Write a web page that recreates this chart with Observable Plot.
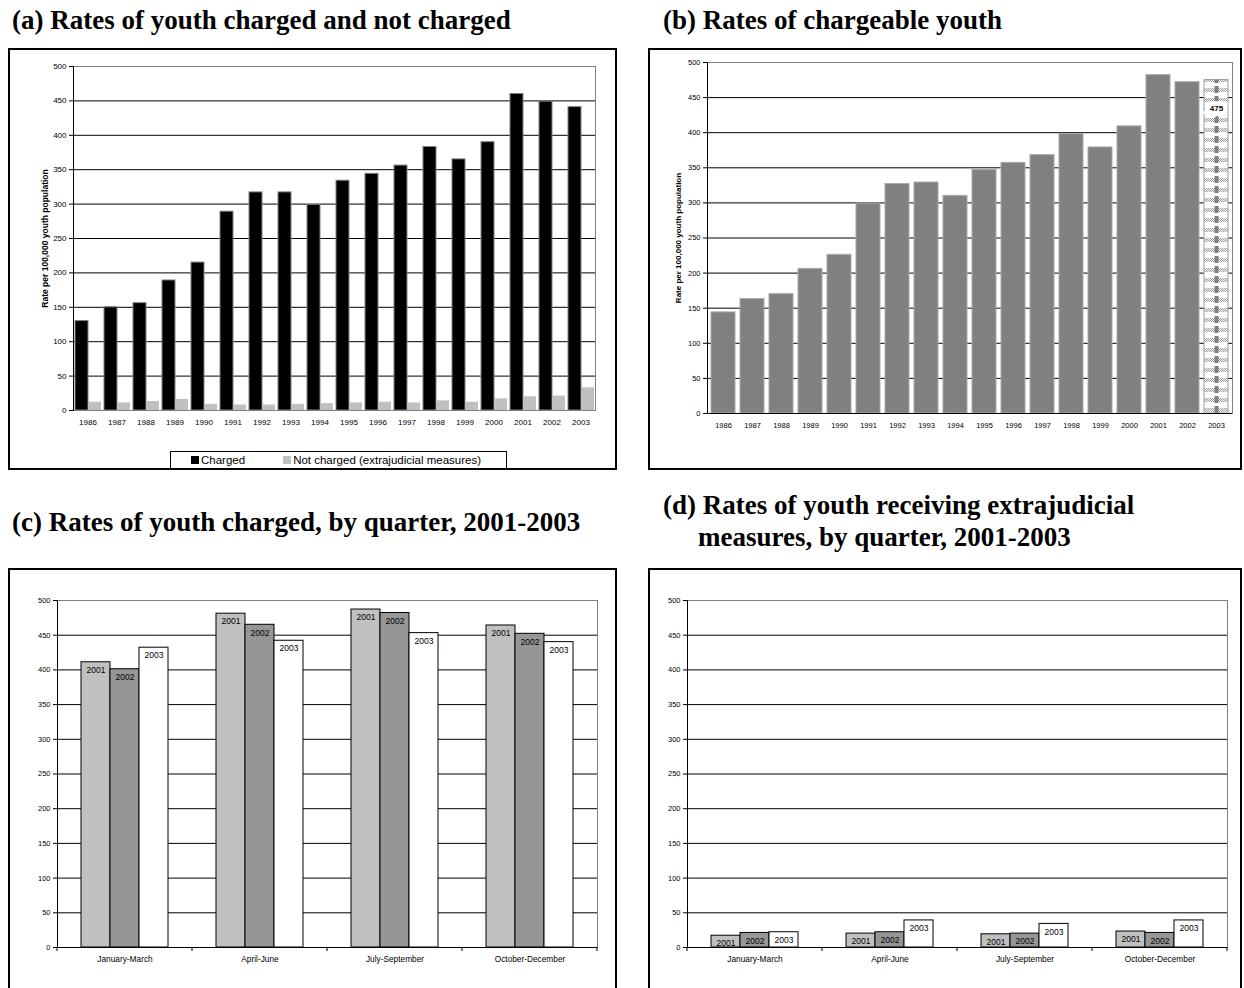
<!DOCTYPE html>
<html>
<head>
<meta charset="utf-8">
<script src="https://cdn.jsdelivr.net/npm/d3@7"></script>
<script src="https://cdn.jsdelivr.net/npm/@observablehq/plot@0.6"></script>
<style>
  html, body { margin: 0; padding: 0; background: #fff; }
  #page { position: relative; width: 1244px; height: 988px; overflow: hidden; background: #fff; }
  .title { position: absolute; font-family: "Liberation Serif", "Times New Roman", serif; font-weight: bold; font-size: 27px; line-height: 32px; color: #000; white-space: nowrap; }
  .box { position: absolute; border: 2px solid #000; box-sizing: border-box; }
  .panel { position: absolute; }
  .panel svg { display: block; }
  .legend { position: absolute; border: 1px solid #000; box-sizing: border-box; background: #fff; font-family: "Liberation Sans", Arial, sans-serif; font-size: 11.5px; display: flex; align-items: center; }
  .legend span.sw { display: inline-block; width: 8px; height: 8px; margin-right: 2px; vertical-align: middle; position: relative; top: -1px; }
</style>
</head>
<body>
<div id="page">
  <div class="title" style="left:12px; top:4px;">(a) Rates of youth charged and not charged</div>
  <div class="title" style="left:663px; top:4px;">(b) Rates of chargeable youth</div>
  <div class="title" style="left:12px; top:506px;">(c) Rates of youth charged, by quarter, 2001-2003</div>
  <div class="title" style="left:663px; top:489px;">(d) Rates of youth receiving extrajudicial<br><span style="padding-left:35px">measures, by quarter, 2001-2003</span></div>

  <div class="box" style="left:8px; top:48px; width:609px; height:422px;"></div>
  <div class="box" style="left:648px; top:48px; width:594px; height:422px;"></div>
  <div class="box" style="left:8px; top:568px; width:609px; height:422px;"></div>
  <div class="box" style="left:648px; top:568px; width:594px; height:422px;"></div>

  <div class="panel" id="pa" style="left:8px; top:48px;"></div>
  <div class="panel" id="pb" style="left:648px; top:48px;"></div>
  <div class="panel" id="pc" style="left:8px; top:568px;"></div>
  <div class="panel" id="pd" style="left:648px; top:568px;"></div>

  <div class="legend" style="left:170px; top:451px; width:337px; height:18px;">
    <span style="margin-left:20px;"><span class="sw" style="background:#000"></span>Charged</span>
    <span style="margin-left:38px;"><span class="sw" style="background:#c0c0c0"></span>Not charged (extrajudicial measures)</span>
  </div>
</div>
<script>
// ---------- data ----------
const years = ["1986","1987","1988","1989","1990","1991","1992","1993","1994","1995","1996","1997","1998","1999","2000","2001","2002","2003"];
const charged = [130,150,156,189,215,289,317,317,299,334,344,356,383,365,390,460,449,441];
const notCharged = [12,11,13,16,9,8,8,9,10,11,12,11,14,12,17,20,21,33];
const chargeable = [144,163,170,206,226,299,327,329,310,347,357,368,398,379,409,482,472,475];
const seriesA = ["Charged","Not charged (extrajudicial measures)"];
const quarters = ["January-March","April-June","July-September","October-December"];
const qYears = ["2001","2002","2003"];
const chargedQ2001 = [411,481,487,464];
const chargedQ2002 = [401,465,482,452];
const chargedQ2003 = [432,442,453,440];
const ejmQ2001 = [17,20,19,23];
const ejmQ2002 = [21,22,20,21];
const ejmQ2003 = [22,39,34,39];
const yTicks = [0,50,100,150,200,250,300,350,400,450,500];
const yLabel = "Rate per 100,000 youth population";

const FONT = "'Liberation Sans', Arial, sans-serif";
const GRAY_FRAME = "#808080";

// ---------- tables ----------
const dataA = years.flatMap((y, i) => [
  {year: y, series: seriesA[0], value: charged[i]},
  {year: y, series: seriesA[1], value: notCharged[i]}
]);
const dataB = years.map((y, i) => ({year: y, value: chargeable[i]}));
const qTable = (a, b, c) => quarters.flatMap((q, i) => [
  {quarter: q, year: qYears[0], value: a[i]},
  {quarter: q, year: qYears[1], value: b[i]},
  {quarter: q, year: qYears[2], value: c[i]}
]);
const dataC = qTable(chargedQ2001, chargedQ2002, chargedQ2003);
const dataD = qTable(ejmQ2001, ejmQ2002, ejmQ2003);

const colorA = {domain: seriesA, range: ["#000000", "#c0c0c0"]};
const colorQ = {domain: qYears, range: ["#c0c0c0", "#969696", "#ffffff"]};

// ---------- (a) ----------
const plotA = Plot.plot({
  width: 609, height: 422,
  marginLeft: 62, marginRight: 20, marginTop: 18, marginBottom: 60,
  style: {fontFamily: FONT, fontSize: "8px", background: "transparent", color: "#000"},
  fx: {domain: years, padding: 0, label: null, axis: null},
  x: {domain: seriesA, paddingInner: 0, paddingOuter: 0.05, axis: null},
  y: {domain: [0, 500], axis: null},
  color: colorA,
  marks: [
    Plot.ruleY(yTicks.slice(1, -1), {stroke: "#000", strokeWidth: 1}),
    Plot.frame({anchor: "top", stroke: GRAY_FRAME}),
    Plot.frame({anchor: "right", stroke: GRAY_FRAME, facetAnchor: "right"}),
    Plot.barY(dataA, {fx: "year", x: "series", y: "value", fill: "series",
      stroke: d => d.series === seriesA[0] ? "#808080" : "none", strokeWidth: 1}),
    Plot.ruleY([0], {stroke: "#808080"}),
    Plot.frame({anchor: "left", stroke: "#000", facetAnchor: "left"}),
    Plot.axisY({ticks: yTicks, tickSize: 4, tickPadding: 3, label: null, fontSize: 8}),
    Plot.axisFx({anchor: "bottom", tickSize: 0, tickPadding: 9, label: null, fontSize: 8}),
    Plot.text([yLabel], {frameAnchor: "left", facetAnchor: "left", textAnchor: "middle",
      rotate: -90, dx: -28, fontWeight: "bold", fontSize: 8.5, text: d => d})
  ]
});
document.getElementById("pa").append(plotA);

// ---------- (b) ----------
const plotB = Plot.plot({
  width: 594, height: 422,
  marginLeft: 59, marginRight: 10, marginTop: 14, marginBottom: 57,
  style: {fontFamily: FONT, fontSize: "7.5px", background: "transparent", color: "#000"},
  x: {domain: years, paddingInner: 0.18, paddingOuter: 0.09, axis: null},
  y: {domain: [0, 500], axis: null},
  marks: [
    Plot.ruleY(yTicks.slice(1, -1), {stroke: "#000", strokeWidth: 1}),
    Plot.frame({anchor: "top", stroke: GRAY_FRAME}),
    Plot.frame({anchor: "right", stroke: GRAY_FRAME}),
    Plot.barY(dataB.filter(d => d.year !== "2003"), {x: "year", y: "value", fill: "#808080", stroke: "#a8a8a8", strokeWidth: 1}),
    Plot.barY(dataB.filter(d => d.year === "2003"), {x: "year", y: "value", fill: "url(#chk)", stroke: "#a0a0a0", strokeWidth: 1}),
    Plot.ruleX(dataB.filter(d => d.year === "2003"), {x: "year", y1: 0, y2: "value", stroke: "#808080", strokeWidth: 4, strokeDasharray: "7,3"}),
    Plot.text(dataB.filter(d => d.year === "2003"), {x: "year", y: "value", text: d => String(d.value), dy: 28,
      fontWeight: "bold", fontSize: 8, fill: "#000", stroke: "#fff", strokeWidth: 9, strokeLinejoin: "miter"}),
    Plot.ruleY([0], {stroke: "#000"}),
    Plot.frame({anchor: "left", stroke: "#000"}),
    Plot.axisY({ticks: yTicks, tickSize: 4, tickPadding: 3, label: null, fontSize: 7.5}),
    Plot.axisX({tickSize: 0, tickPadding: 9, label: null, fontSize: 7.5}),
    Plot.text([yLabel], {frameAnchor: "left", textAnchor: "middle",
      rotate: -90, dx: -29, fontWeight: "bold", fontSize: 8, text: d => d})
  ]
});
d3.select(plotB).insert("defs", ":first-child").html(`
  <pattern id="chk" patternUnits="userSpaceOnUse" width="4" height="10">
    <rect width="4" height="10" fill="#ffffff"/>
    <rect x="0" y="0" width="1" height="1" fill="#9a9a9a"/><rect x="2" y="0" width="1" height="1" fill="#9a9a9a"/>
    <rect x="1" y="1" width="1" height="1" fill="#9a9a9a"/><rect x="3" y="1" width="1" height="1" fill="#9a9a9a"/>
    <rect x="0" y="2" width="1" height="1" fill="#9a9a9a"/><rect x="2" y="2" width="1" height="1" fill="#9a9a9a"/>
    <rect x="1" y="3" width="1" height="1" fill="#9a9a9a"/><rect x="3" y="3" width="1" height="1" fill="#9a9a9a"/>
  </pattern>`);
document.getElementById("pb").append(plotB);

// ---------- (c) and (d) ----------
function quarterPlot(data, width, mL, mR) {
  const p = Plot.plot({
    width, height: 422,
    marginLeft: mL, marginRight: mR, marginTop: 32, marginBottom: 43,
    style: {fontFamily: FONT, fontSize: "8px", background: "transparent", color: "#000"},
    fx: {domain: quarters, padding: 0, label: null, axis: null},
    x: {domain: qYears, paddingInner: 0, paddingOuter: 0.77, axis: null},
    y: {domain: [0, 500], axis: null},
    color: colorQ,
    marks: [
      Plot.ruleY(yTicks.slice(1, -1), {stroke: "#000", strokeWidth: 1}),
      Plot.frame({anchor: "top", stroke: GRAY_FRAME}),
      Plot.frame({anchor: "right", stroke: GRAY_FRAME, facetAnchor: "right"}),
      Plot.barY(data, {fx: "quarter", x: "year", y: "value", fill: "year", stroke: "#000", strokeWidth: 1}),
      Plot.text(data, {fx: "quarter", x: "year", y: "value", text: "year", dy: 8, fontSize: 8.5, fill: "#000"}),
      Plot.ruleY([0], {stroke: "#000"}),
      Plot.frame({anchor: "left", stroke: "#000", facetAnchor: "left"}),
      Plot.axisY({ticks: yTicks, tickSize: 4, tickPadding: 3, label: null, fontSize: 7.5}),
      Plot.axisFx({anchor: "bottom", tickSize: 0, tickPadding: 9, label: null, fontSize: 8.3})
    ]
  });
  // category boundary ticks on the x axis, from Plot's fx scale
  const fx = p.scale("fx"), y = p.scale("y");
  const y0 = y.apply(0);
  const bounds = quarters.map(q => fx.apply(q)).concat([fx.apply(quarters[quarters.length - 1]) + fx.step]);
  d3.select(p).append("g").selectAll("line").data(bounds).join("line")
    .attr("x1", d => d).attr("x2", d => d).attr("y1", y0).attr("y2", y0 + 4)
    .attr("stroke", "#000");
  return p;
}
document.getElementById("pc").append(quarterPlot(dataC, 609, 49, 20));
document.getElementById("pd").append(quarterPlot(dataD, 594, 38, 14));
</script>
</body>
</html>
